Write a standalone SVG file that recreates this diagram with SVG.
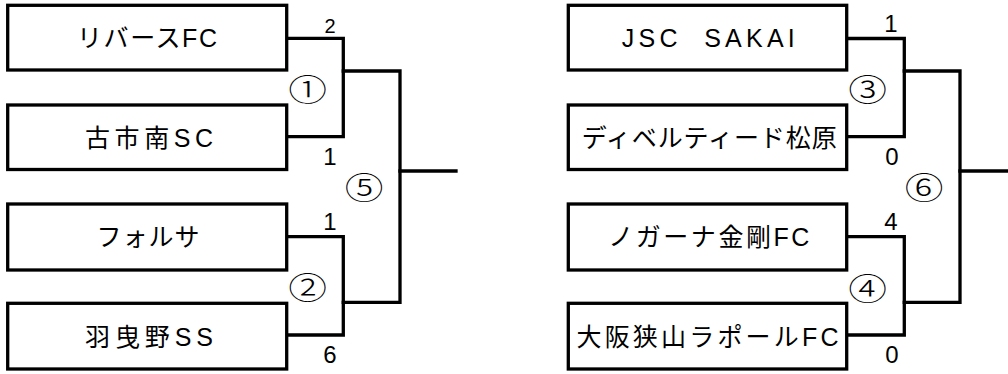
<svg xmlns="http://www.w3.org/2000/svg" width="1008" height="374" viewBox="0 0 1008 374">
<style>
.box{fill:#fff;stroke:#000;stroke-width:3.3}
.ln{fill:none;stroke:#000;stroke-width:3.3;stroke-linecap:square}
.t{font-family:"Liberation Sans","Noto Sans CJK JP",sans-serif;font-size:25px;fill:#000;text-anchor:middle}
.s{font-family:"Liberation Sans","Noto Sans CJK JP",sans-serif;font-size:24px;fill:#000;text-anchor:middle}
.c{font-family:"Noto Sans CJK JP",sans-serif;font-size:31px;font-weight:300;fill:#000;text-anchor:middle}
</style>
<rect width="1008" height="374" fill="#fff"/>
<g id="connectors">
<path class="ln" d="M287,38.3 H343.3 V136.7 H287"/>
<path class="ln" d="M287,236.7 H343.3 V335 H287"/>
<path class="ln" d="M343.3,71 H400 V302.3 H343.3"/>
<path class="ln" d="M400,171 H456"/>
<path class="ln" d="M847,38.5 H904.3 V136.7 H847"/>
<path class="ln" d="M847,236.7 H904.3 V335 H847"/>
<path class="ln" d="M904.3,71 H960 V302.3 H904.3"/>
<path class="ln" d="M960,171 H1008"/>
</g>
<g id="team1"><rect class="box" x="7.7" y="5.3" width="279" height="64.7"/><text class="t" x="147" y="46.5" textLength="140" lengthAdjust="spacing">リバースFC</text></g>
<g id="team2"><rect class="box" x="7.7" y="105" width="279" height="64.5"/><text class="t" x="149" y="146.5" textLength="128" lengthAdjust="spacing">古市南SC</text></g>
<g id="team3"><rect class="box" x="7.7" y="204" width="279" height="66"/><text class="t" x="148" y="246" textLength="103" lengthAdjust="spacing">フォルサ</text></g>
<g id="team4"><rect class="box" x="7.7" y="303.3" width="279" height="65.7"/><text class="t" x="149" y="345.5" textLength="128" lengthAdjust="spacing">羽曳野SS</text></g>
<g id="team5"><rect class="box" x="568.3" y="5.3" width="278.4" height="64.7"/><text class="t" x="708.3" y="46.5" textLength="173" lengthAdjust="spacing" xml:space="preserve">JSC  SAKAI</text></g>
<g id="team6"><rect class="box" x="568.3" y="105" width="278.4" height="64.5"/><text class="t" x="709.2" y="146.5" textLength="255" lengthAdjust="spacing">ディベルティード松原</text></g>
<g id="team7"><rect class="box" x="568.3" y="204" width="278.4" height="66"/><text class="t" x="708.8" y="246" textLength="201" lengthAdjust="spacing">ノガーナ金剛FC</text></g>
<g id="team8"><rect class="box" x="568.3" y="303.3" width="278.4" height="65.7"/><text class="t" x="707.5" y="345.5" textLength="262" lengthAdjust="spacing">大阪狭山ラポールFC</text></g>
<g id="scores">
<text class="s" x="330" y="32.7" style="font-size:20px">2</text>
<text class="s" x="330" y="165">1</text>
<text class="s" x="330" y="230">1</text>
<text class="s" x="330" y="363">6</text>
<text class="s" x="891" y="31.7">1</text>
<text class="s" x="892" y="165">0</text>
<text class="s" x="891" y="230">4</text>
<text class="s" x="892" y="363">0</text>
</g>
<g id="matches">
<text class="c" transform="translate(307.5,100.5) scale(1.25,1)">①</text>
<text class="c" transform="translate(307.5,299) scale(1.25,1)">②</text>
<text class="c" transform="translate(364,199) scale(1.25,1)">⑤</text>
<text class="c" transform="translate(867.5,101) scale(1.25,1)">③</text>
<text class="c" transform="translate(867.5,299.5) scale(1.25,1)">④</text>
<text class="c" transform="translate(924,199) scale(1.25,1)">⑥</text>
</g>
</svg>
